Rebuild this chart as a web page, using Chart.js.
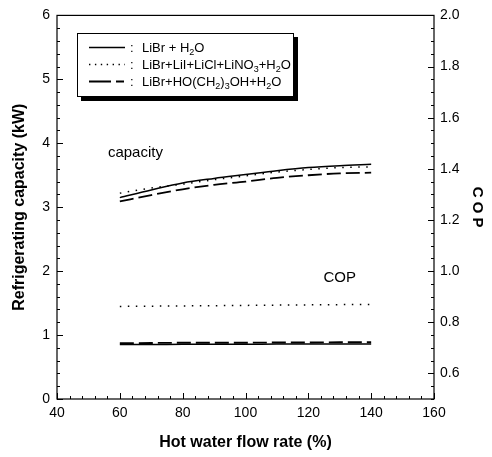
<!DOCTYPE html>
<html><head><meta charset="utf-8">
<script src="https://cdn.jsdelivr.net/npm/chart.js@4.4.0/dist/chart.umd.min.js"></script>
<style>
html,body{margin:0;padding:0;background:#fff;}
#wrap{position:relative;width:492px;height:457px;}
canvas{display:block}
#legend{position:absolute;left:77px;top:33px;width:215px;height:62px;border:1px solid #000;background:#fff;box-shadow:4px 4px 0 #000;font-family:"Liberation Sans",Arial,sans-serif;font-size:13px;color:#000;}
.row{position:absolute;left:0;height:17px;line-height:17px;white-space:nowrap;width:100%;}
.row svg{position:absolute;left:10px;top:0;}
.row .c{position:absolute;left:52px;}
.row .t{position:absolute;left:64px;}
sub{font-size:9px;vertical-align:-3px;line-height:0}
</style></head>
<body><div id="wrap"><canvas id="c" width="492" height="457"></canvas>
<div id="legend">
 <div class="row" style="top:5px"><svg width="38" height="17"><line x1="1" y1="8.5" x2="37" y2="8.5" stroke="#000" stroke-width="1.4"/></svg><span class="c">:</span><span class="t">LiBr + H<sub>2</sub>O</span></div>
 <div class="row" style="top:22px"><svg width="38" height="17"><line x1="1" y1="8.5" x2="37" y2="8.5" stroke="#000" stroke-width="1.4" stroke-dasharray="1.4 4.5"/></svg><span class="c">:</span><span class="t">LiBr+LiI+LiCl+LiNO<sub>3</sub>+H<sub>2</sub>O</span></div>
 <div class="row" style="top:39px"><svg width="38" height="17"><line x1="1" y1="8.5" x2="37" y2="8.5" stroke="#000" stroke-width="1.8" stroke-dasharray="22 5 8 5"/></svg><span class="c">:</span><span class="t">LiBr+HO(CH<sub>2</sub>)<sub>3</sub>OH+H<sub>2</sub>O</span></div>
</div></div>
<script>
const xFlow = [60,70,80,90,100,110,120,130,140];
const capLiBr   = [3.15,3.27,3.38,3.45,3.51,3.57,3.62,3.65,3.67];
const capLiMix  = [3.22,3.30,3.36,3.43,3.49,3.55,3.59,3.62,3.63];
const capPDiol  = [3.09,3.19,3.28,3.35,3.40,3.46,3.50,3.53,3.54];
const copLiBr   = [0.713,0.713,0.714,0.714,0.714,0.715,0.715,0.715,0.715];
const copLiMix  = [0.862,0.863,0.864,0.865,0.866,0.867,0.868,0.869,0.870];
const copPDiol  = [0.718,0.719,0.720,0.720,0.720,0.721,0.721,0.722,0.722];
const xTicks = [40,60,80,100,120,140,160];
const yLeftTicks = [0,1,2,3,4,5,6];
const yRightTicks = [0.6,0.8,1.0,1.2,1.4,1.6,1.8,2.0];

const FONT = '"Liberation Sans", Arial, sans-serif';
const pts = arr => arr.map((v,i)=>({x:xFlow[i], y:v}));
const SOLID=[], DOT=[1.5,6.5], DASH=[14,5];
function ds(arr, dash, w, axis){
  return {data:pts(arr), borderColor:'#000', borderWidth:w, borderDash:dash, pointRadius:0,
          fill:false, tension:0.4, cubicInterpolationMode:'monotone', yAxisID:axis};
}

const framePlugin = {
  id:'frame',
  afterDatasetsDraw(chart){
    const {ctx, chartArea:a, scales} = chart;
    const x=scales.x, y=scales.y, y2=scales.y2;
    ctx.save();
    ctx.strokeStyle='#000'; ctx.lineWidth=1.2;
    ctx.strokeRect(a.left, a.top, a.right-a.left, a.bottom-a.top);
    ctx.lineWidth=1;
    ctx.beginPath();
    for(let v=40; v<=160.001; v+=4){
      const px=Math.round(x.getPixelForValue(v))+0.5;
      const L = (v%20===0)?6:3;
      ctx.moveTo(px,a.bottom); ctx.lineTo(px,a.bottom-L);
    }
    for(let i=0;i<=30;i++){
      const v=i*0.2;
      const py=Math.round(y.getPixelForValue(v))+0.5;
      const L = (i%5===0)?6:3;
      ctx.moveTo(a.left,py); ctx.lineTo(a.left+L,py);
    }
    for(let i=0;i<=30;i++){
      const v=0.5+i*0.05;
      const py=Math.round(y2.getPixelForValue(v))+0.5;
      const L = ((i-2)%4===0 && i>=2)?6:3;
      ctx.moveTo(a.right,py); ctx.lineTo(a.right-L,py);
    }
    ctx.stroke();
    ctx.fillStyle='#000';
    ctx.font='15px '+FONT;
    ctx.textBaseline='middle';
    ctx.textAlign='left';
    ctx.fillText('capacity', x.getPixelForValue(56.2), y.getPixelForValue(3.85));
    ctx.textAlign='center';
    ctx.fillText('COP', x.getPixelForValue(130), y.getPixelForValue(1.89));
    ctx.restore();
  }
};

new Chart(document.getElementById('c'), {
  type:'line',
  data:{datasets:[
    ds(capLiBr, SOLID, 1.5, 'y'),
    ds(capLiMix, DOT, 1.5, 'y'),
    ds(capPDiol, DASH, 1.8, 'y'),
    ds(copLiBr, SOLID, 1.5, 'y2'),
    ds(copLiMix, DOT, 1.5, 'y2'),
    ds(copPDiol, DASH, 1.8, 'y2')
  ]},
  options:{
    responsive:false, animation:false, devicePixelRatio:1,
    layout:{padding:{top:11,left:0,right:0,bottom:0}},
    plugins:{legend:{display:false}, tooltip:{enabled:false}},
    scales:{
      x:{type:'linear', min:40, max:160,
         afterBuildTicks:s=>{s.ticks=xTicks.map(v=>({value:v}));},
         afterFit:s=>{s.height=58;},
         grid:{display:false, drawTicks:false}, border:{display:false},
         ticks:{color:'#000', font:{family:FONT,size:14}, padding:6, maxRotation:0, autoSkip:false},
         title:{display:true, text:'Hot water flow rate (%)', color:'#000', font:{family:FONT,size:16,weight:'bold'}, padding:{top:0,bottom:5}}
      },
      y:{type:'linear', position:'left', min:0, max:6,
         afterBuildTicks:s=>{s.ticks=yLeftTicks.map(v=>({value:v}));},
         afterFit:s=>{s.width=57;},
         grid:{display:false, drawTicks:false}, border:{display:false},
         ticks:{color:'#000', font:{family:FONT,size:14}, padding:7, autoSkip:false},
         title:{display:true, text:'Refrigerating capacity (kW)', color:'#000', font:{family:FONT,size:16,weight:'bold'}, padding:{top:10,bottom:0}}
      },
      y2:{type:'linear', position:'right', min:0.5, max:2.0,
         afterBuildTicks:s=>{s.ticks=yRightTicks.map(v=>({value:v}));},
         afterFit:s=>{s.width=58;},
         grid:{display:false, drawTicks:false}, border:{display:false},
         ticks:{color:'#000', font:{family:FONT,size:14}, padding:6, autoSkip:false, callback:v=>v.toFixed(1)},
         title:{display:true, text:'C O P', color:'#000', font:{family:FONT,size:15,weight:'bold'}, padding:{top:6,bottom:0}}
      }
    }
  },
  plugins:[framePlugin]
});
</script>
</body></html>
